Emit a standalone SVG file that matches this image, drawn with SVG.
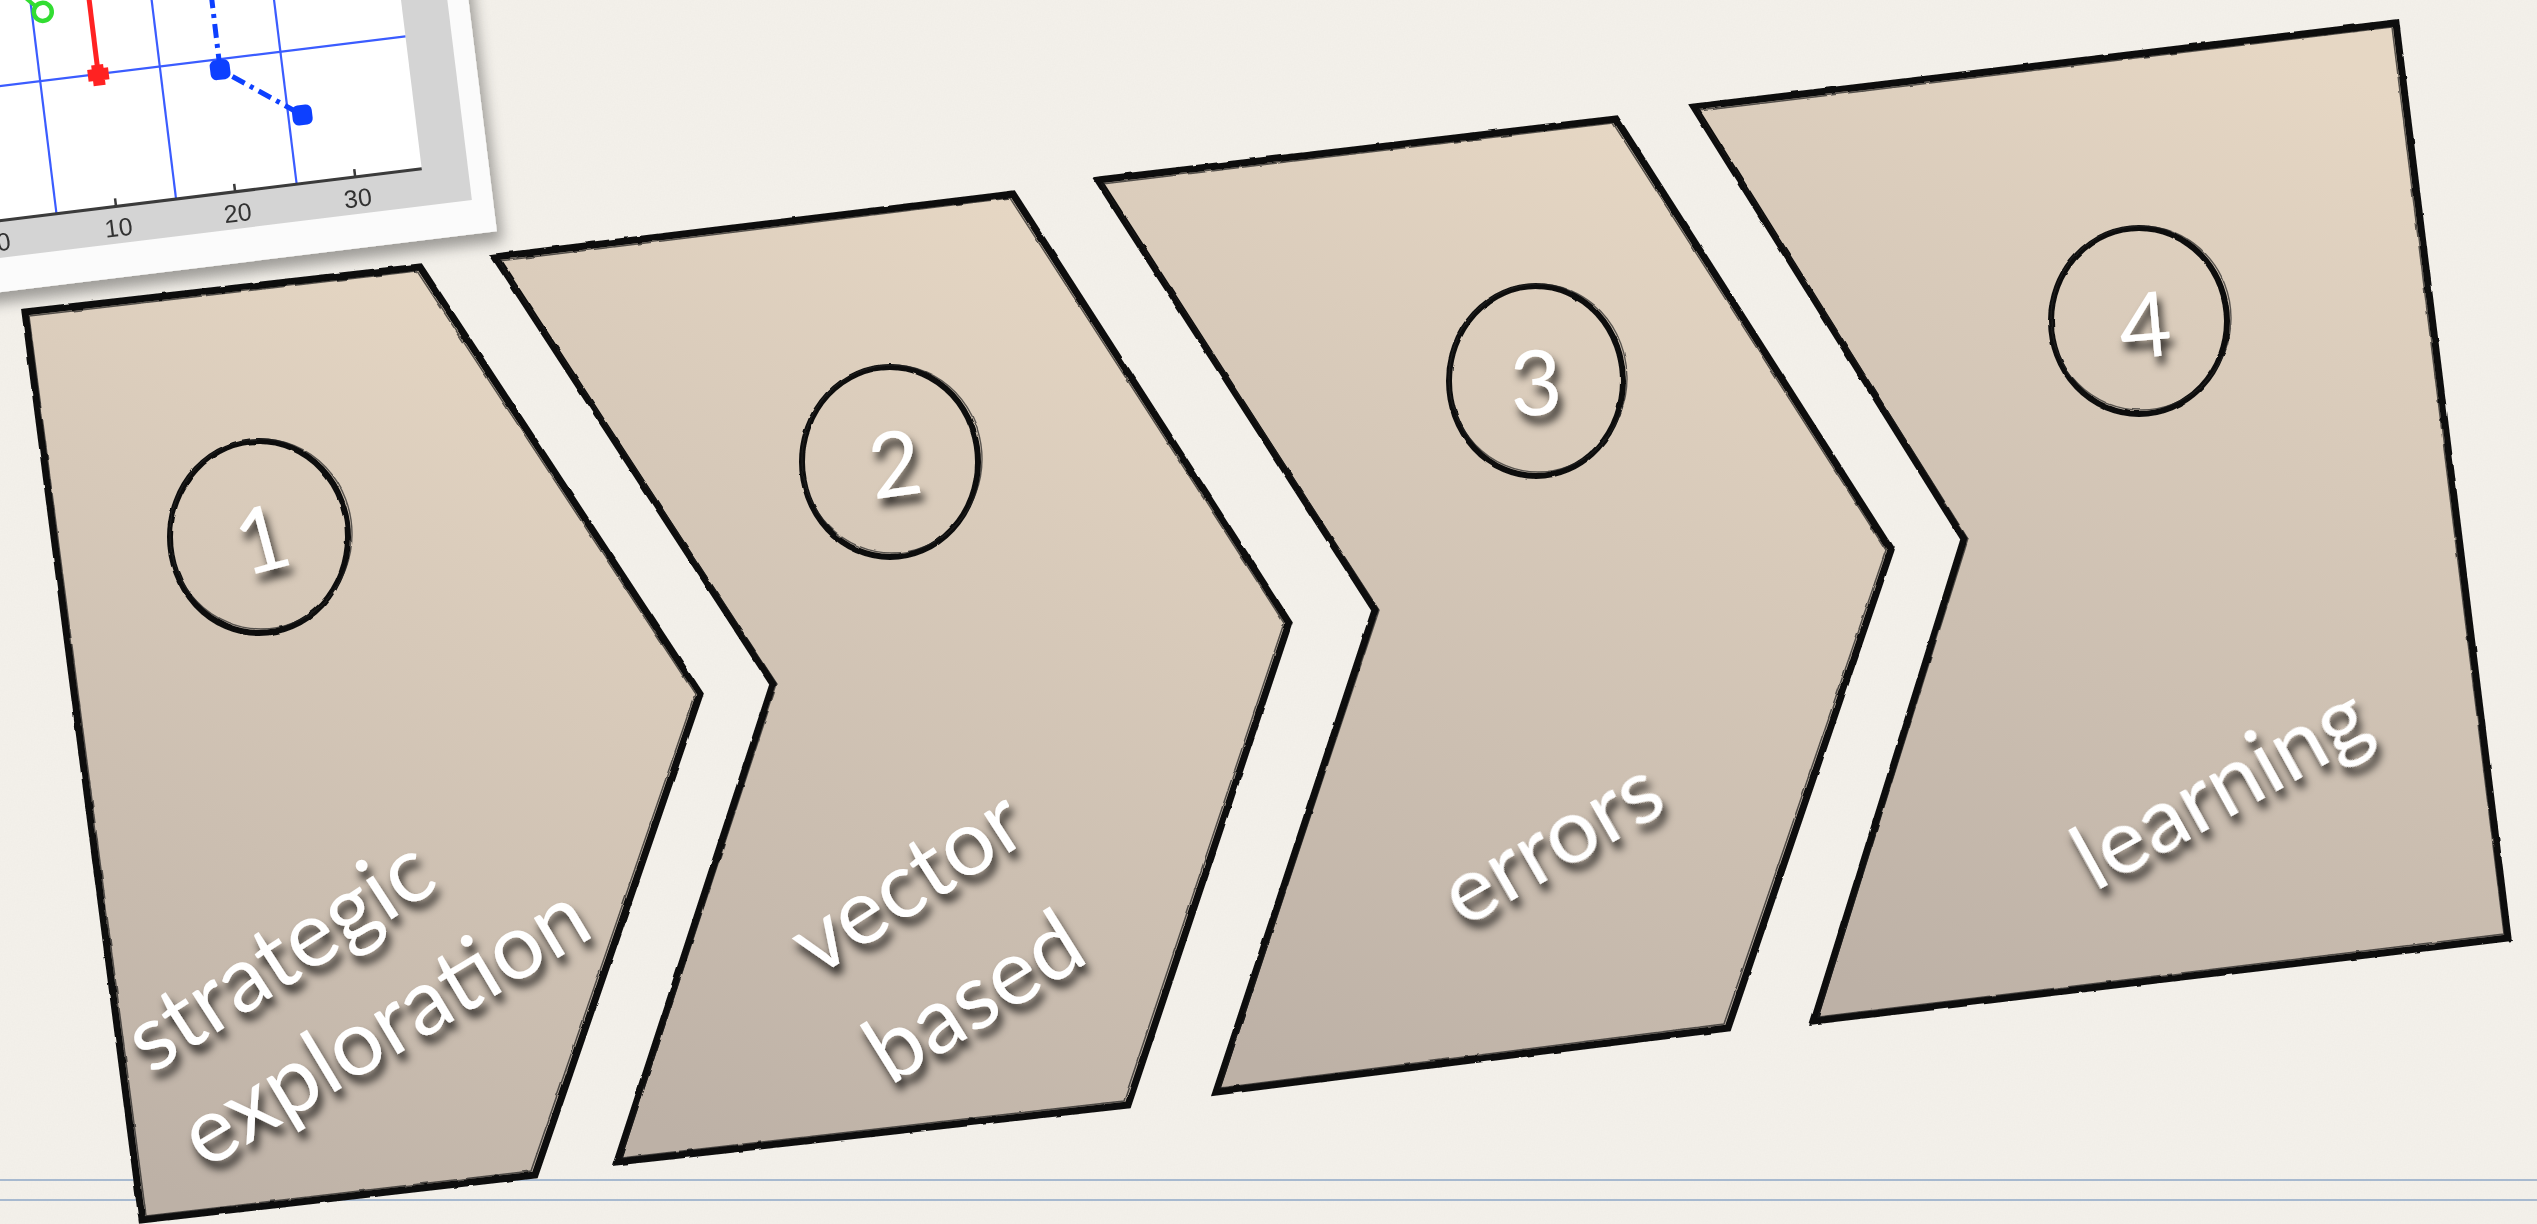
<svg xmlns="http://www.w3.org/2000/svg" width="2537" height="1224" viewBox="0 0 2537 1224">
<defs>
  <linearGradient id="fillg" x1="0.65" y1="0" x2="0.3" y2="1">
    <stop offset="0" stop-color="#e6d7c4"/>
    <stop offset="1" stop-color="#bdb1a6"/>
  </linearGradient>
  <filter id="paper" x="0" y="0" width="100%" height="100%">
    <feTurbulence type="fractalNoise" baseFrequency="0.7" numOctaves="3" seed="4"/>
    <feColorMatrix type="matrix" values="0 0 0 0 0.62  0 0 0 0 0.6  0 0 0 0 0.55  0 0 0 0.1 0"/>
  </filter>
  <filter id="rough" x="-5%" y="-5%" width="110%" height="110%">
    <feTurbulence type="fractalNoise" baseFrequency="0.06" numOctaves="2" seed="7" result="t"/>
    <feDisplacementMap in="SourceGraphic" in2="t" scale="2.5" xChannelSelector="R" yChannelSelector="G"/>
  </filter>
  <filter id="tshadow" x="-20%" y="-40%" width="140%" height="180%">
    <feGaussianBlur in="SourceAlpha" stdDeviation="4" result="bl"/>
    <feOffset in="bl" dx="4" dy="8" result="b"/>
    <feFlood flood-color="#000" flood-opacity="0.8"/>
    <feComposite in2="b" operator="in"/>
    <feMerge><feMergeNode/><feMergeNode in="SourceGraphic"/></feMerge>
  </filter>
  <filter id="cshadow" x="-10%" y="-10%" width="125%" height="130%">
    <feGaussianBlur in="SourceAlpha" stdDeviation="7" result="bl"/>
    <feOffset in="bl" dx="6" dy="10" result="b"/>
    <feFlood flood-color="#000" flood-opacity="0.35"/>
    <feComposite in2="b" operator="in"/>
    <feMerge><feMergeNode/><feMergeNode in="SourceGraphic"/></feMerge>
  </filter>
  <style>
    .shape { fill: url(#fillg); stroke: #0e0e0e; stroke-width: 7; stroke-linejoin: miter; }
    .edge2 { fill: none; stroke: #1a1a1a; stroke-width: 1.5; opacity: 0.7; }
    .ring { fill: none; stroke: #111; stroke-width: 6; }
    .ring2 { fill: none; stroke: #222; stroke-width: 1.4; opacity: 0.7; }
    .num { font-family: Lato, "Open Sans", sans-serif; font-size: 90px; fill: #ffffff; text-anchor: middle; }
    .lbl { font-family: Lato, "Open Sans", sans-serif; font-size: 92px; fill: #ffffff; text-anchor: middle; }
    .grid { stroke: #3a5cff; stroke-width: 2.2; fill: none; }
    .tick { font-family: "Liberation Sans", Arial, sans-serif; font-size: 25px; fill: #333333; text-anchor: middle; }
    .rule { stroke: #a7b9cf; stroke-width: 2; }
  </style>
</defs>

<rect x="0" y="0" width="2537" height="1224" fill="#f4f1eb"/>
<rect x="0" y="0" width="2537" height="1224" filter="url(#paper)"/>

<line class="rule" x1="0" y1="1180" x2="2537" y2="1180"/>
<line class="rule" x1="0" y1="1200" x2="2537" y2="1200"/>

<g id="chart" filter="url(#cshadow)">
  <g transform="rotate(-7)">
    <rect x="-80" y="-100" width="545" height="390" fill="#fbfbfb"/>
    <rect x="-80" y="-100" width="524" height="356" fill="#d4d4d4"/>
    <rect x="-80" y="-100" width="478" height="319" fill="#ffffff"/>
    <line class="grid" x1="30" y1="-100" x2="30" y2="219"/>
    <line class="grid" x1="150.5" y1="-100" x2="150.5" y2="219"/>
    <line class="grid" x1="272" y1="-100" x2="272" y2="219"/>
    <line class="grid" x1="-80" y1="85.5" x2="398" y2="85.5"/>
    <line x1="-80" y1="219" x2="398" y2="219" stroke="#3a3a3a" stroke-width="3"/>
    <line x1="90" y1="219" x2="90" y2="211" stroke="#3a3a3a" stroke-width="2.5"/>
    <line x1="210" y1="219" x2="210" y2="211" stroke="#3a3a3a" stroke-width="2.5"/>
    <line x1="331" y1="219" x2="331" y2="211" stroke="#3a3a3a" stroke-width="2.5"/>
    <text class="tick" x="-26" y="249">0</text>
    <text class="tick" x="90" y="249">10</text>
    <text class="tick" x="210" y="249">20</text>
    <text class="tick" x="331" y="249">30</text>
    <line x1="88.5" y1="-100" x2="88.5" y2="86" stroke="#ff2424" stroke-width="5"/>
    <path d="M78,80 h21 v12 h-21 z M82.5,76 h12 v21 h-12 z" fill="#ff2424"/>
    <line x1="6" y1="-20" x2="34" y2="10" stroke="#33dd33" stroke-width="4"/>
    <circle cx="41" cy="17" r="9" fill="none" stroke="#33dd33" stroke-width="4.5"/>
    <path d="M210.8,-100 L210,96 L286,151" fill="none" stroke="#1040ff" stroke-width="5" stroke-dasharray="14 6 4 6"/>
    <rect x="200" y="86" width="20" height="20" rx="6" fill="#1040ff"/>
    <rect x="276" y="141" width="20" height="20" rx="6" fill="#1040ff"/>
  </g>
</g>

<g id="step1">
  <polygon class="shape" points="25,312 420,267 700,694 535,1175 142,1220" filter="url(#rough)"/>
  <polygon class="edge2" points="29,316 417,271 695,694 531,1171 146,1216" filter="url(#rough)"/>
  <ellipse class="ring" cx="259" cy="537" rx="89" ry="96" filter="url(#rough)"/>
  <ellipse class="ring2" cx="261" cy="534" rx="91" ry="95" filter="url(#rough)"/>
  <g filter="url(#tshadow)">
    <text class="num" transform="translate(262,539) rotate(-15)" y="32">1</text>
    <text class="lbl" transform="translate(283,961) rotate(-33)" y="24">strategic</text>
    <text class="lbl" transform="translate(388,1032) rotate(-31)" y="24">exploration</text>
  </g>
</g>

<g id="step2">
  <polygon class="shape" points="495,257 1013,194 1289,623 1128,1105 617,1162 773,684" filter="url(#rough)"/>
  <polygon class="edge2" points="499,261 1010,198 1284,623 1124,1101 621,1158 777,684" filter="url(#rough)"/>
  <ellipse class="ring" cx="890" cy="462" rx="88" ry="95" filter="url(#rough)"/>
  <ellipse class="ring2" cx="892" cy="459" rx="90" ry="94" filter="url(#rough)"/>
  <g filter="url(#tshadow)">
    <text class="num" transform="translate(895,464) rotate(-8)" y="32">2</text>
    <text class="lbl" transform="translate(911,888) rotate(-33)" y="24">vector</text>
    <text class="lbl" transform="translate(978,1003) rotate(-32)" y="24">based</text>
  </g>
</g>

<g id="step3">
  <polygon class="shape" points="1098,180 1616,119 1891,550 1728,1028 1216,1092 1375,610" filter="url(#rough)"/>
  <polygon class="edge2" points="1102,184 1613,123 1886,550 1724,1024 1220,1088 1379,610" filter="url(#rough)"/>
  <ellipse class="ring" cx="1536" cy="381" rx="87" ry="95" filter="url(#rough)"/>
  <ellipse class="ring2" cx="1538" cy="378" rx="89" ry="94" filter="url(#rough)"/>
  <g filter="url(#tshadow)">
    <text class="num" transform="translate(1536,383) rotate(-3)" y="32">3</text>
    <text class="lbl" transform="translate(1555,848) rotate(-30)" y="24">errors</text>
  </g>
</g>

<g id="step4">
  <polygon class="shape" points="1694,107 2396,23 2508,938 1814,1021 1964,539" filter="url(#rough)"/>
  <polygon class="edge2" points="1698,111 2392,27 2504,934 1818,1017 1968,539" filter="url(#rough)"/>
  <ellipse class="ring" cx="2139" cy="321" rx="88" ry="93" filter="url(#rough)"/>
  <ellipse class="ring2" cx="2141" cy="318" rx="90" ry="92" filter="url(#rough)"/>
  <g filter="url(#tshadow)">
    <text class="num" transform="translate(2145,325) rotate(-5)" y="32">4</text>
    <text class="lbl" transform="translate(2224,793) rotate(-29)" y="24">learning</text>
  </g>
</g>

<g id="connectors"></g>
</svg>
